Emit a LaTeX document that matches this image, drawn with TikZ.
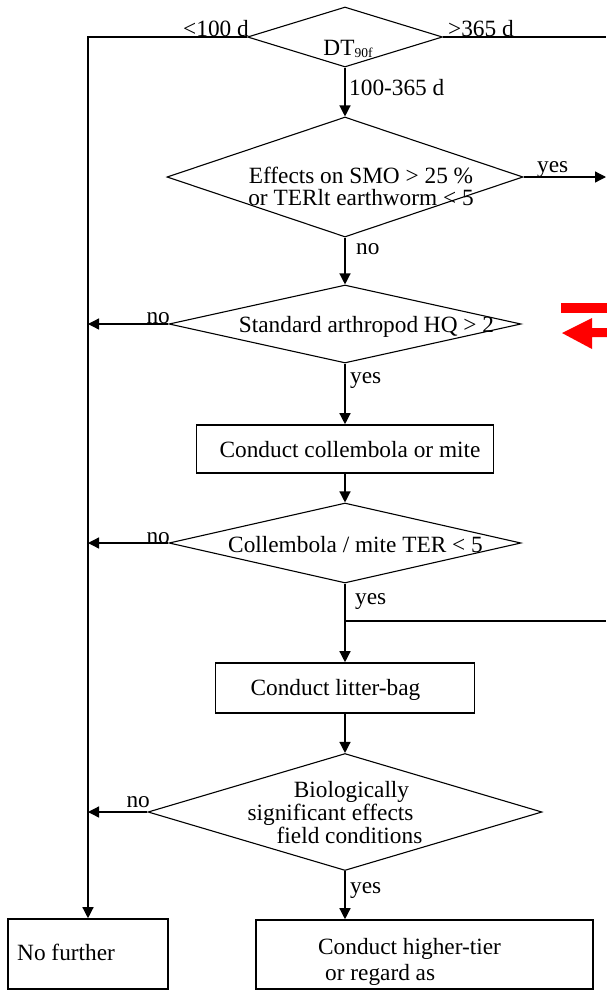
\documentclass[tikz,border=0pt]{standalone}
\usepackage{fontspec}
\setmainfont{Liberation Serif}
\usetikzlibrary{shapes.geometric,arrows.meta}

\begin{document}
\begin{tikzpicture}[x=1pt,y=-1pt,
  every node/.style={font=\fontsize{23.3}{23}\selectfont,inner sep=0pt},
  decision/.style={draw,diamond,line width=1.1pt},
  stepbox/.style={draw,rectangle,line width=1.6pt},
  flow/.style={line width=1.3pt},
  arr/.style={flow,-{Triangle[length=11pt,width=11pt]}}]
      \useasboundingbox (0,0) rectangle (607,991);
      % decisions and steps
      \node[decision,minimum width=195pt,minimum height=60pt] (dt) at (345,37) {};
      \node[decision,minimum width=356pt,minimum height=120pt] (smo) at (345,177) {};
      \node[decision,minimum width=352pt,minimum height=78pt] (hq) at (345,324) {};
      \node[stepbox,minimum width=297pt,minimum height=48pt] (coll) at (345,449) {};
      \node[decision,minimum width=352pt,minimum height=80pt] (ter) at (345,543) {};
      \node[stepbox,minimum width=259pt,minimum height=50pt] (litter) at (345,688) {};
      \node[decision,minimum width=394pt,minimum height=117pt] (bio) at (345,812) {};
      \node[stepbox,minimum width=160pt,minimum height=70pt] (nofur) at (88,954) {};
      \node[stepbox,minimum width=337pt,minimum height=69pt] (higher) at (424.5,954.5) {};
      % texts
      \node[anchor=base] (dt-t) at (348,55) {DT\raisebox{-2.5pt}{\fontsize{13.5}{13.5}\selectfont 90f}};
      \node[align=center] (smo-t) at (361,186) {Effects on SMO > 25 \%\\[-1pt]or TERlt earthworm < 5};
      \node[anchor=base] (hq-t) at (366.5,332) {Standard arthropod HQ > 2};
      \node[anchor=base] (coll-t) at (350,457) {Conduct collembola or mite};
      \node[anchor=base] (ter-t) at (355.5,552) {Collembola / mite TER < 5};
      \node[anchor=base] (litter-t) at (335.5,695) {Conduct litter-bag};
      \node[align=center] (bio-t) at (330.5,813) {\hspace*{42pt}Biologically\\significant effects\\\hspace*{38pt}field conditions};
      \node[anchor=base west] (nofur-t) at (17,960) {No further};
      \node[anchor=north west,align=left] (higher-t) at (318,938) {Conduct higher-tier\\[3pt]\hspace*{7pt}or regard as};
      % branch labels
      \node[anchor=base east] (lt100) at (249,36) {<100 d};
      \node[anchor=base west] (gt365) at (448,36) {>365 d};
      \node[anchor=base west] (mid) at (349,95) {100-365 d};
      \node[anchor=base west] (smo-yes) at (537,172) {yes};
      \node[anchor=base west] (smo-no) at (356,254) {no};
      \node[anchor=base east] (hq-no) at (170,323) {no};
      \node[anchor=base west] (hq-yes) at (350,383) {yes};
      \node[anchor=base east] (ter-no) at (170,543) {no};
      \node[anchor=base west] (ter-yes) at (355,604) {yes};
      \node[anchor=base east] (bio-no) at (150,807) {no};
      \node[anchor=base west] (bio-yes) at (350,893) {yes};
      \coordinate (rgt) at (606,37);
      \coordinate (split) at (345,621);
      % connectors
      \draw[arr] (dt.west) -| (nofur.north);
      \draw[flow] (dt.east) -- (dt.east -| rgt);
      \draw[arr] (dt.south) -- (smo.north);
      \draw[arr] (smo.east) -- (smo.east -| rgt);
      \draw[arr] (smo.south) -- (hq.north);
      \draw[arr] (hq.west) -- (hq.west -| nofur.north);
      \draw[arr] (hq.south) -- (coll.north);
      \draw[arr] (coll.south) -- (ter.north);
      \draw[arr] (ter.west) -- (ter.west -| nofur.north);
      \draw[arr] (ter.south) -- (litter.north);
      \draw[flow] (split) -- (split -| rgt);
      \draw[arr] (litter.south) -- (bio.north);
      \draw[arr] (bio.west) -- (bio.west -| nofur.north);
      \draw[arr] (bio.south) -- (bio.south |- higher.north);
      % red marker
      \fill[red] (561,303) rectangle (607,313);
      \fill[red] (562,333) -- (592,318) -- (592,328) -- (607,328) -- (607,337) -- (592,337) -- (592,349) -- cycle;
    \end{tikzpicture}
\end{document}
